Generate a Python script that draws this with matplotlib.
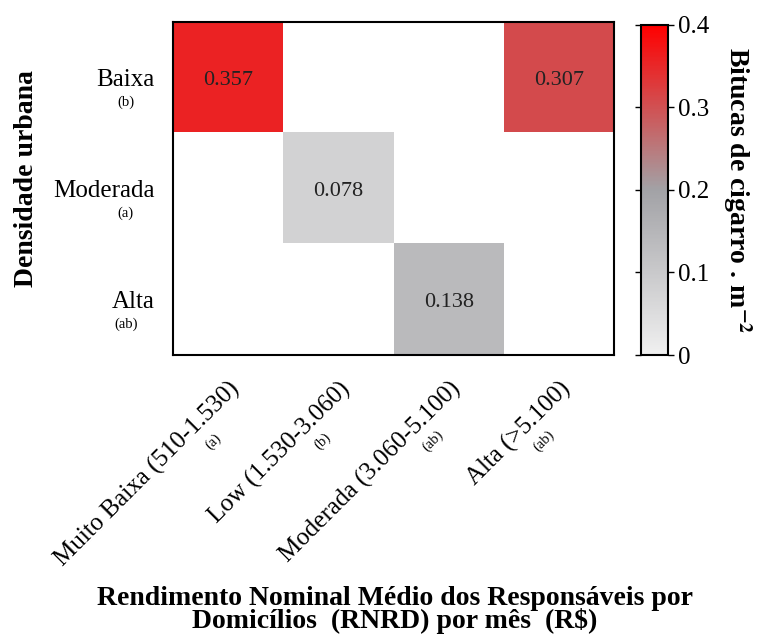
import numpy as np
import matplotlib
matplotlib.use("Agg")
import matplotlib.pyplot as plt
from matplotlib.colors import LinearSegmentedColormap

plt.rcParams['font.family'] = ['Liberation Serif', 'DejaVu Serif']
plt.rcParams['mathtext.fontset'] = 'stix'

# data
rows = ['Baixa', 'Moderada', 'Alta']
row_letters = ['(b)', '(a)', '(ab)']
cols = ['Muito Baixa (510-1.530)', 'Low (1.530-3.060)',
        'Moderada (3.060-5.100)', 'Alta (>5.100)']
col_letters = ['(a)', '(b)', '(ab)', '(ab)']
values = np.array([
    [0.357, np.nan, np.nan, 0.307],
    [np.nan, 0.078, np.nan, np.nan],
    [np.nan, np.nan, 0.138, np.nan],
])
cbar_ticks = [0, 0.1, 0.2, 0.3, 0.4]
cbar_labels = ['0', '0.1', '0.2', '0.3', '0.4']

cmap = LinearSegmentedColormap.from_list(
    'grey_red', [(0.0, '#f0f0f0'), (0.5, '#a2a2a6'), (1.0, '#ff0000')])
cmap.set_bad('white')

fig = plt.figure(figsize=(7.64, 6.37), dpi=100)
ax = fig.add_axes([0.2264, 0.4427, 0.5773, 0.5228])
cax = fig.add_axes([0.839, 0.4427, 0.035, 0.5181])

im = ax.imshow(np.ma.masked_invalid(values), cmap=cmap, vmin=0, vmax=0.4,
               aspect='auto')

# value labels in the filled cells
for i in range(values.shape[0]):
    for j in range(values.shape[1]):
        if not np.isnan(values[i, j]):
            ax.text(j, i + 0.03, f"{values[i, j]:.3f}", ha='center',
                    va='center', fontsize=16, color='#222222')

ax.set_xticks(range(len(cols)))
ax.set_yticks(range(len(rows)))
ax.set_xticklabels(cols, rotation=45, ha='right', rotation_mode='anchor',
                   fontsize=18)
ax.set_yticklabels(rows, fontsize=18)
ax.tick_params(axis='x', length=0, pad=16)
ax.tick_params(axis='y', length=0, pad=13)
for s in ax.spines.values():
    s.set_linewidth(1.5)

# significance letters under the tick labels
for i, lt in enumerate(row_letters):
    ax.annotate(lt, xy=(0, i), xycoords=('axes fraction', 'data'),
                xytext=(-34, -18), textcoords='offset points',
                ha='center', va='center', fontsize=10.5)
for j, lt in enumerate(col_letters):
    ax.annotate(lt, xy=(j, 0), xycoords=('data', 'axes fraction'),
                xytext=(-11, -62), textcoords='offset points',
                ha='center', va='center', fontsize=10.5, rotation=45)

ax.set_ylabel('Densidade urbana', fontsize=20, fontweight='bold')
ax.yaxis.set_label_coords(-0.303, 0.53)
fig.text(0.517, 0.043,
         'Rendimento Nominal Médio dos Responsáveis por\n'
         'Domicílios  (RNRD) por mês  (R$)',
         ha='center', va='center', fontsize=20, fontweight='bold',
         linespacing=0.85)

cb = fig.colorbar(im, cax=cax, ticks=cbar_ticks)
cb.ax.set_yticklabels(cbar_labels, fontsize=18)
cb.outline.set_linewidth(1.5)
cb.ax.tick_params(length=4, width=1, left=True)
cb.set_label('Bitucas de cigarro . m$^{\\mathbf{-2}}$', rotation=270,
             fontsize=20, fontweight='bold', labelpad=32)

fig.savefig('out.png', dpi=100)
plt.close(fig)
